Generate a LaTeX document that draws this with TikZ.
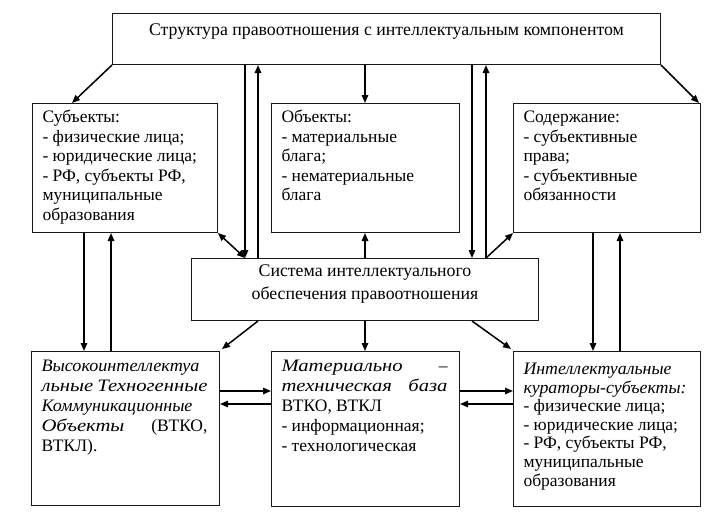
\documentclass[tikz,border=0pt]{standalone}
\usepackage{fontspec}
\setmainfont{Liberation Serif}
\usetikzlibrary{arrows.meta,calc}
\tikzset{
  box/.style={draw=black!90, line width=1pt, inner sep=0pt, anchor=north west},
  arr/.style={line width=1.5pt, -{Triangle[length=8pt,width=6.5pt]}},
  darr/.style={line width=1.5pt, {Triangle[length=8pt,width=6.5pt]}-{Triangle[length=8pt,width=6.5pt]}},
}
% width, height, first baseline, baselineskip, content
\newcommand\cellbox[5]{\parbox[c][#2][t]{#1}{\fontsize{17.5}{#4}\selectfont
  \parindent0pt\leftskip10pt\rightskip12pt\rule{0pt}{#3}#5}}
\newcommand\centbox[5]{\parbox[c][#2][t]{#1}{\fontsize{17.8}{#4}\selectfont
  \centering\parindent0pt\rule{0pt}{#3}#5}}
\newcommand\ist[1]{\scalebox{1.18}[1]{\textit{#1}}}
\newcommand\sx[2]{\resizebox{#1}{\height}{\textit{#2}}}
\begin{document}
\begin{tikzpicture}[x=1pt,y=-1pt]
\useasboundingbox (0,0) rectangle (722,517);
\fill[white] (0,0) rectangle (722,517);

\node[box] (top) at (112,13) {\centbox{548pt}{51pt}{22pt}{20pt}{Структура правоотношения с интеллектуальным компонентом}};

\node[box] (subj) at (32,103) {\cellbox{185pt}{129pt}{19pt}{19.6pt}{Субъекты:\\- физические лица;\\- юридические лица;\\- РФ, субъекты РФ,\\муниципальные\\образования}};
\node[box] (obj) at (271,103) {\cellbox{188pt}{129pt}{19pt}{19.6pt}{Объекты:\\- материальные\\блага;\\- нематериальные\\блага}};
\node[box] (cont) at (513,103) {\cellbox{187pt}{129pt}{19pt}{19.6pt}{Содержание:\\- субъективные\\права;\\- субъективные\\обязанности}};

\node[box] (sys) at (191,258) {\centbox{347pt}{62pt}{18pt}{23pt}{Система интеллектуального\\обеспечения правоотношения}};

\node[box] (bl) at (31,351) {\cellbox{188pt}{154pt}{20pt}{20pt}{\sx{158pt}{Высокоинтеллектуа}\\\ist{льные}\hfill\ist{Техногенные}\\\sx{151pt}{Коммуникационные}\\\ist{Объекты}\hfill(ВТКО,\\ВТКЛ).}};
\node[box] (bm) at (271,351) {\cellbox{188pt}{155pt}{20pt}{20pt}{\ist{Материально}\hfill\textit{–}\\\ist{техническая}\hfill\ist{база}\\ВТКО, ВТКЛ\\- информационная;\\- технологическая}};
\node[box] (br) at (513,351) {\cellbox{187pt}{155pt}{23pt}{18.6pt}{\sx{148pt}{Интеллектуальные}\\\sx{163pt}{кураторы-субъекты:}\\- физические лица;\\- юридические лица;\\- РФ, субъекты РФ,\\муниципальные\\образования}};

% top level
\draw[arr] (top.south west) -- ($(subj.north west)+(40,0)$);
\draw[arr] (top.south east) -- ($(cont.north east)+(-2,0)$);
\draw[arr] (365,0 |- top.south) -- (365,0 |- obj.north);
\draw[arr] (245,0 |- top.south) -- (245,0 |- sys.north);
\draw[arr] (258,0 |- sys.north) -- (258,0 |- top.south);
\draw[arr] (472,0 |- top.south) -- (472,0 |- sys.north);
\draw[arr] (486,0 |- sys.north) -- (486,0 |- top.south);
% middle
\draw[darr] (subj.south east) -- (245,0 |- sys.north);
\draw[arr] (486,0 |- sys.north) -- (cont.south west);
\draw[arr] (365,0 |- sys.north) -- (365,0 |- obj.south);
\draw[arr] (84,0 |- subj.south) -- (84,0 |- bl.north);
\draw[arr] (111,0 |- bl.north) -- (111,0 |- subj.south);
\draw[arr] (593,0 |- cont.south) -- (593,0 |- br.north);
\draw[arr] (620,0 |- br.north) -- (620,0 |- cont.south);
% bottom
\draw[arr] (258,0 |- sys.south) -- ($(bl.north east)+(2,-2)$);
\draw[arr] (365,0 |- sys.south) -- (365,0 |- bm.north);
\draw[arr] (472,0 |- sys.south) -- ($(br.north west)+(-2,-2)$);
\draw[arr] (bl.east |- 0,391) -- (bm.west |- 0,391);
\draw[arr] (bm.west |- 0,404) -- (bl.east |- 0,404);
\draw[arr] (bm.east |- 0,391) -- (br.west |- 0,391);
\draw[arr] (br.west |- 0,404) -- (bm.east |- 0,404);
\end{tikzpicture}
\end{document}
